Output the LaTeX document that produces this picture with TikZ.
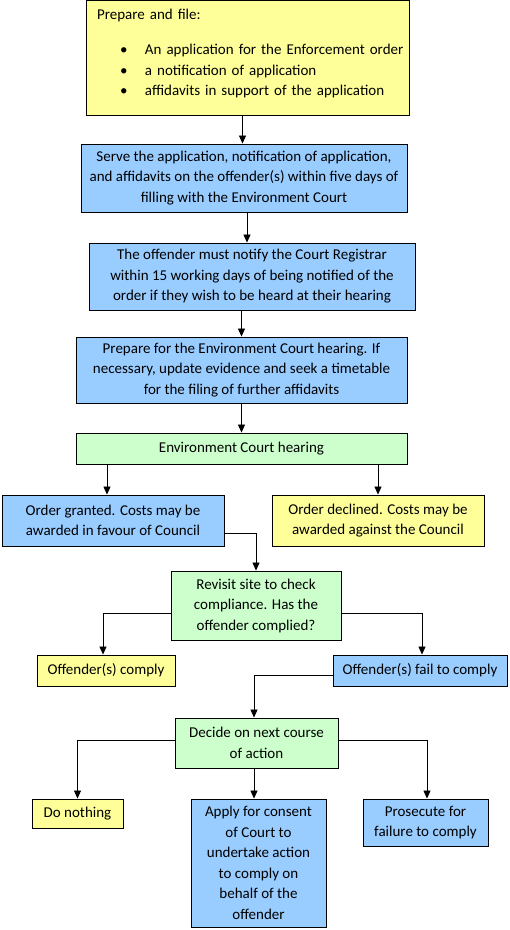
\documentclass[tikz,border=0pt]{standalone}
\usepackage{fontspec}
\setmainfont{Carlito}
\usetikzlibrary{arrows.meta, positioning}

\definecolor{boxyellow}{HTML}{FFFF99}
\definecolor{boxblue}{HTML}{99CCFF}
\definecolor{boxgreen}{HTML}{CCFFCC}

\begin{document}
\begin{tikzpicture}[x=1pt, y=-1pt,
        every node/.style={font=\fontsize{15}{20.5}\selectfont},
        box/.style={draw, line width=0.9pt, align=center, inner sep=0pt},
        boxsize/.style 2 args={minimum width=#1pt, minimum height=#2pt},
        yellowbox/.style={box, fill=boxyellow},
        bluebox/.style={box, fill=boxblue},
        greenbox/.style={box, fill=boxgreen},
        flow/.style={-{Triangle[length=8pt,width=7pt]}, line width=0.8pt}]
        \newcommand{\bulletitem}[1]{\mbox{\makebox[48pt][l]{\hspace*{23pt}\textbullet}#1}}
        \useasboundingbox (0,0) rectangle (510,930);

        % main column
        \node[yellowbox, boxsize={323}{115}, align=left, text width=301pt, inner xsep=11pt]
            (prepare) at (247.5, 57.5) {Prepare and file:\\[15pt]
            \bulletitem{An application for the Enforcement order}\\
            \bulletitem{a notification of application}\\
            \bulletitem{affidavits in support of the application}\rule[-10.5pt]{0pt}{0pt}};
        \node[bluebox, boxsize={326}{68}] (serve) at (244, 178)
            {Serve the application, notification of application,\\
             and affidavits on the offender(s) within five days of\\
             filling with the Environment Court};
        \node[bluebox, boxsize={326}{67}] (notify) at (252, 276.5)
            {The offender must notify the Court Registrar\\
             within 15 working days of being notified of the\\
             order if they wish to be heard at their hearing};
        \node[bluebox, boxsize={331}{66}] (hearingprep) at (241.5, 370)
            {Prepare for the Environment Court hearing. If\\
             necessary, update evidence and seek a timetable\\
             for the filing of further affidavits};
        \node[greenbox, boxsize={331}{31}] (hearing) at (241.5, 448.5) {Environment Court hearing};

        % outcome of hearing
        \node[bluebox, boxsize={222}{51}] (granted) at (113, 520.5)
            {Order granted. Costs may be\\ awarded in favour of Council};
        \node[yellowbox, boxsize={212}{51}] (declined) at (378, 520.5)
            {Order declined. Costs may be\\ awarded against the Council};
        \node[greenbox, boxsize={170}{69}] (revisit) at (256, 605.5)
            {Revisit site to check\\ compliance. Has the\\ offender complied?};
        \node[yellowbox, boxsize={138}{31}] (comply) at (106, 670.5) {Offender(s) comply};
        \node[bluebox, boxsize={174}{31}] (fail) at (420, 670.5) {Offender(s) fail to comply};

        % next course of action
        \node[greenbox, boxsize={163}{50}] (decide) at (256.5, 743)
            {Decide on next course\\ of action};
        \node[yellowbox, boxsize={91}{29}] (nothing) at (77.5, 813.5) {Do nothing};
        \node[bluebox, boxsize={135}{128}] (apply) at (258.5, 863)
            {Apply for consent\\ of Court to\\ undertake action\\ to comply on\\ behalf of the\\ offender};
        \node[bluebox, boxsize={125}{47}] (prosecute) at (425.5, 822.5)
            {Prosecute for\\ failure to comply};

        \draw[flow] ([xshift=-5pt]prepare.south) -- ([xshift=-5pt]prepare.south |- serve.north);
        \draw[flow] ([xshift=3pt]serve.south) -- ([xshift=3pt]serve.south |- notify.north);
        \draw[flow] (notify.south -| hearingprep.north) -- (hearingprep.north);
        \draw[flow] (hearingprep) -- (hearing);
        \draw[flow] ([xshift=-6pt]granted.north |- hearing.south) -- ([xshift=-6pt]granted.north);
        \draw[flow] (hearing.south -| declined.north) -- (declined.north);
        \draw[flow] ([yshift=-12.5pt]granted.east) -| (revisit.north);
        \draw[flow] ([yshift=-7.5pt]revisit.west) -| ([xshift=-3pt]comply.north);
        \draw[flow] ([yshift=-7.5pt]revisit.east) -| ([xshift=2pt]fail.north);
        \draw[flow] ([yshift=-4.5pt]fail.west) -| ([xshift=-2.5pt]decide.north);
        \draw[flow] ([yshift=3pt]decide.west) -| (nothing.north);
        \draw[flow] ([xshift=-2.5pt]decide.south) -- ([xshift=-2.5pt]decide.south |- apply.north);
        \draw[flow] ([yshift=3pt]decide.east) -| ([xshift=1.5pt]prosecute.north);
    \end{tikzpicture}
\end{document}
